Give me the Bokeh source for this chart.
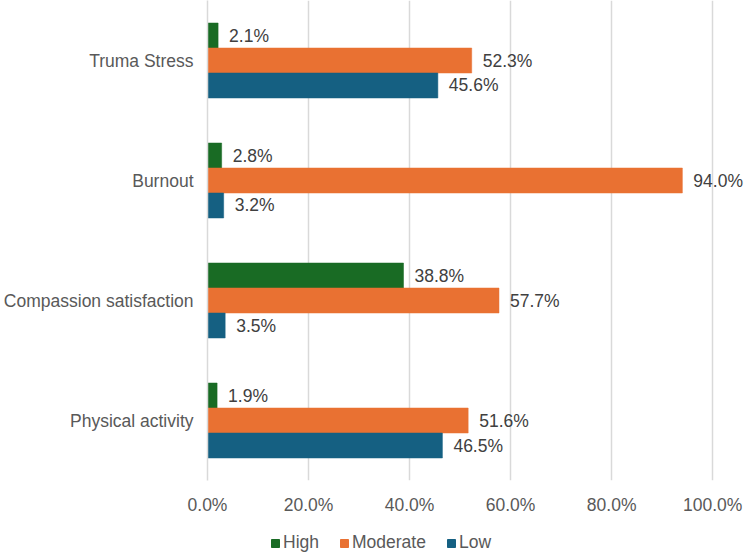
from bokeh.plotting import figure
from bokeh.layouts import column
from bokeh.models import ColumnDataSource, FactorRange, Range1d, FixedTicker, CustomJSTickFormatter, Legend, LegendItem
from bokeh.transform import dodge
from bokeh.core.properties import value
from bokeh.embed import file_html
from bokeh.resources import INLINE

categories = ["Truma Stress", "Burnout", "Compassion satisfaction", "Physical activity"]
high = [2.1, 2.8, 38.8, 1.9]
moderate = [52.3, 94.0, 57.7, 51.6]
low = [45.6, 3.2, 3.5, 46.5]
series_names = ["High", "Moderate", "Low"]
colors = ["#196B24", "#E97132", "#156082"]
x_ticks = [0, 20, 40, 60, 80, 100]

FONT = "Liberation Sans"

src = ColumnDataSource(dict(
    cat=categories,
    High=high, Moderate=moderate, Low=low,
    High_lbl=[f"{v:.1f}%" for v in high],
    Moderate_lbl=[f"{v:.1f}%" for v in moderate],
    Low_lbl=[f"{v:.1f}%" for v in low],
))

p = figure(width=744, height=517, output_backend="svg", toolbar_location=None,
           y_range=FactorRange(*list(reversed(categories))),
           x_range=Range1d(0, 106.3),
           min_border_top=0, min_border_right=0, min_border_left=0, min_border_bottom=0)
p.outline_line_color = None

bar_h = 25 / 120
offsets = [bar_h, 0, -bar_h]
for name, col, off in zip(series_names, colors, offsets):
    p.hbar(y=dodge("cat", off, range=p.y_range), right=name, left=0, height=bar_h,
           source=src, fill_color=col, line_color=col, line_width=0.5)
    p.text(x=name, y=dodge("cat", off, range=p.y_range), text=name + "_lbl", source=src,
           x_offset=11, text_align="left", text_baseline="middle",
           text_font=value(FONT), text_font_size="17.5px", text_color="#404040")

p.xaxis.ticker = FixedTicker(ticks=x_ticks)
p.xaxis.formatter = CustomJSTickFormatter(code="return tick.toFixed(1) + '%';")
p.xaxis.axis_line_color = None
p.xaxis.major_tick_line_color = None
p.xaxis.minor_tick_line_color = None
p.xaxis.major_tick_out = 0
p.xaxis.major_tick_in = 0
p.xaxis.minor_tick_out = 0
p.xaxis.major_label_standoff = 14
p.xaxis.major_label_text_font = FONT
p.xaxis.major_label_text_font_size = "17.5px"
p.xaxis.major_label_text_color = "#595959"

p.yaxis.axis_line_color = "#d9d9d9"
p.yaxis.axis_line_width = 1.5
p.yaxis.major_tick_line_color = None
p.yaxis.minor_tick_line_color = None
p.yaxis.major_tick_out = 0
p.yaxis.major_tick_in = 0
p.yaxis.major_label_standoff = 14
p.yaxis.major_label_text_font = FONT
p.yaxis.major_label_text_font_size = "17.5px"
p.yaxis.major_label_text_color = "#595959"

p.ygrid.grid_line_color = None
p.xgrid.ticker = FixedTicker(ticks=x_ticks)
p.xgrid.grid_line_color = "#d9d9d9"
p.xgrid.grid_line_width = 1.5

# legend in its own strip below the chart
lg = figure(width=744, height=36, output_backend="svg", toolbar_location=None,
            x_range=Range1d(0, 1), y_range=Range1d(0, 1),
            min_border_top=0, min_border_right=0, min_border_left=0, min_border_bottom=0)
lg.outline_line_color = None
lg.axis.visible = False
lg.grid.visible = False
leg_src = ColumnDataSource(dict(y=[5.0], right=[5.0]))  # outside the visible range
leg_renderers = [lg.hbar(y="y", right="right", left=4.0, height=0.1, source=leg_src,
                         fill_color=c, line_color=c) for c in colors]
legend = Legend(items=[LegendItem(label=n, renderers=[r], index=0) for n, r in zip(series_names, leg_renderers)],
                orientation="horizontal", location=(63, 0),
                glyph_width=10, glyph_height=10, label_standoff=3, spacing=20,
                padding=0, margin=0, border_line_color=None, background_fill_alpha=0,
                label_text_font=FONT, label_text_font_size="17.5px", label_text_color="#595959")
lg.add_layout(legend, "center")

layout = column(p, lg, spacing=0)
open("out.html", "w").write(file_html(layout, INLINE))
